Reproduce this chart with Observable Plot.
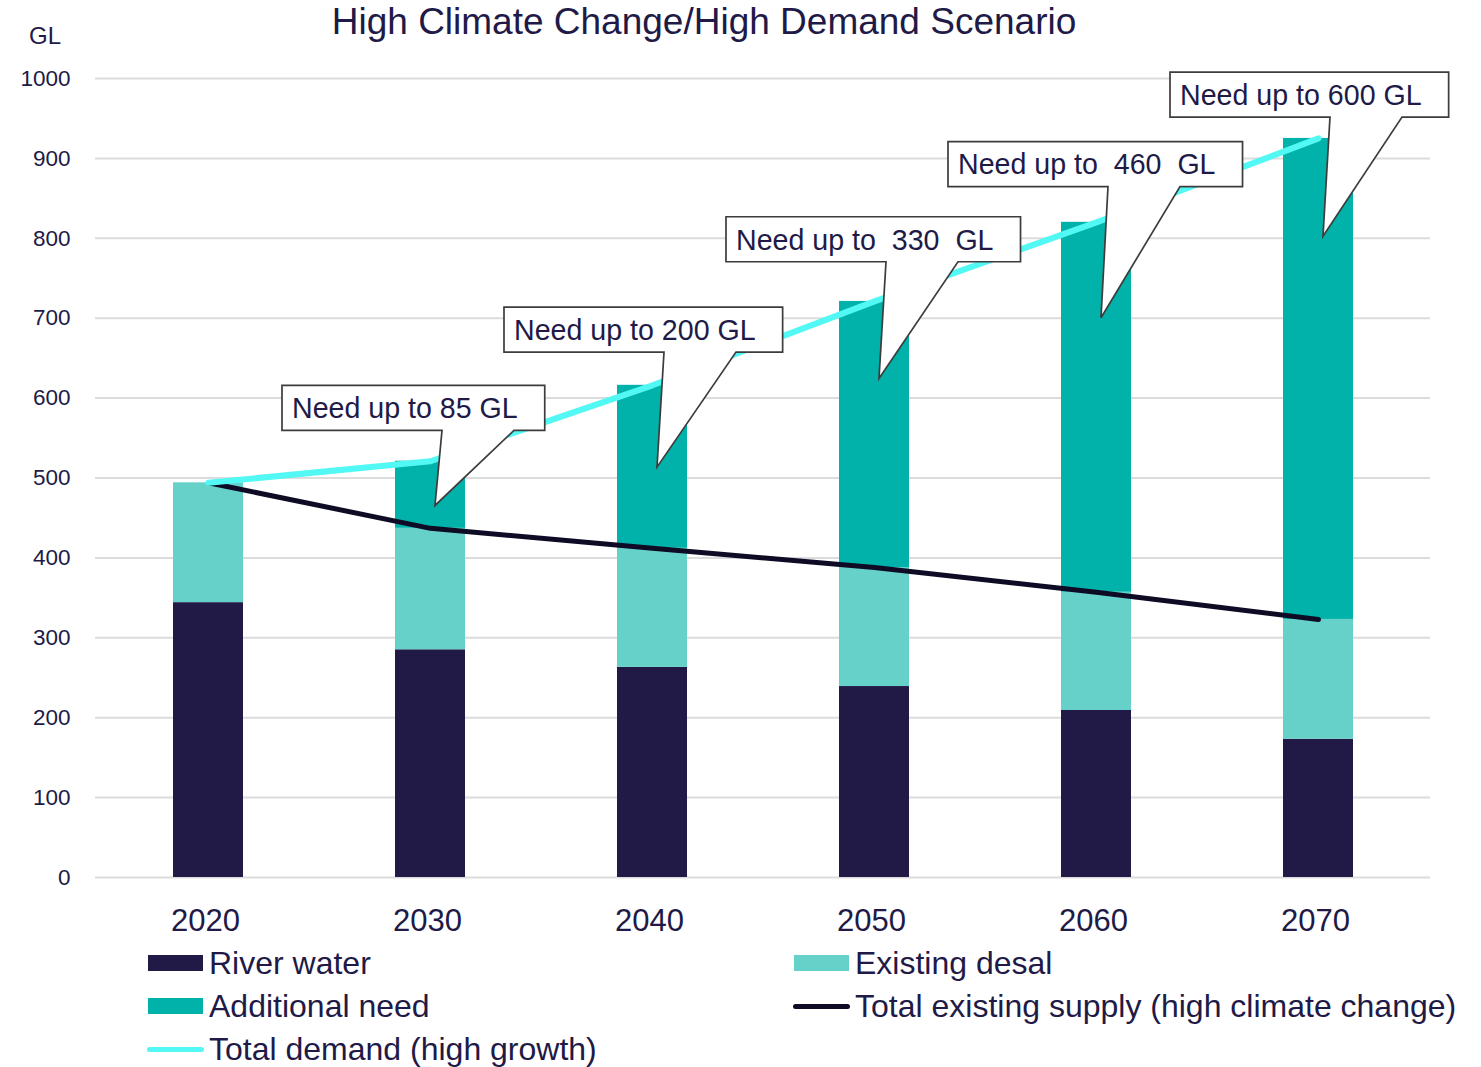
<!DOCTYPE html>
<html>
<head>
<meta charset="utf-8">
<script src="https://cdn.jsdelivr.net/npm/d3@7"></script>
<script src="https://cdn.jsdelivr.net/npm/@observablehq/plot@0.6"></script>
<style>
  body { margin: 0; background: #fff; font-family: "Liberation Sans", Arial, sans-serif; color: #211a47; }
  #wrap { position: relative; width: 1481px; height: 1067px; overflow: hidden; }
  #title { position: absolute; left: 0; top: 0; width: 1408px; text-align: center; font-size: 37px; line-height: 44px; white-space: nowrap; }
  #unit { position: absolute; left: 29px; top: 24px; font-size: 24px; line-height: 24px; }
  #chart { position: absolute; left: 0; top: 50px; }
  .lg { position: absolute; height: 40px; display: flex; align-items: center; font-size: 32px; white-space: nowrap; }
  .sw { display: inline-block; width: 55px; height: 16px; margin-right: 6px; }
  .ln { display: inline-block; width: 57px; height: 5px; border-radius: 3px; margin-left: -1px; margin-right: 5px; }
</style>
</head>
<body>
<div id="wrap">
  <div id="title">High Climate Change/High Demand Scenario</div>
  <div id="unit">GL</div>
  <div id="chart"></div>
</div>
<script>
// ---- data ----
const years = ["2020", "2030", "2040", "2050", "2060", "2070"];
const riverWater = [344, 285, 263, 239, 209, 173];
const existingDesal = [150, 152, 149, 149, 148, 150];
const additionalNeed = [0, 84, 204, 333, 463, 602];
const totalSupply = [494, 437, 412, 388, 357, 323];
const totalDemand = [494, 521, 616, 721, 820, 925];
const yTicks = [0, 100, 200, 300, 400, 500, 600, 700, 800, 900, 1000];

const seriesNames = ["River water", "Existing desal", "Additional need"];
const seriesColors = ["#211a47", "#66d1c9", "#00b2a9"];
const supplyName = "Total existing supply (high climate change)";
const demandName = "Total demand (high growth)";
const supplyColor = "#0e0b25";
const demandColor = "#52f8f4";

const calloutYears = ["2030", "2040", "2050", "2060", "2070"];
const calloutLabels = ["Need up to 85 GL", "Need up to 200 GL", "Need up to  330  GL", "Need up to  460  GL", "Need up to 600 GL"];
const calloutTips = [465, 513, 624, 700, 802];
const calloutBoxBottoms = [559, 657, 770, 864, 951];

// ---- tables ----
const seriesValues = [riverWater, existingDesal, additionalNeed];
const barRows = years.flatMap((yr, i) => seriesNames.map((s, k) => ({year: yr, series: s, value: seriesValues[k][i]})));
const supplyRows = years.map((yr, i) => ({year: yr, value: totalSupply[i]}));
const demandRows = years.map((yr, i) => ({year: yr, value: totalDemand[i]}));

const FONT = "'Liberation Sans', Arial, sans-serif";

const calloutMark = (index, scales, values, dimensions, context) => {
  const g = d3.create("svg:g").attr("font-family", FONT);
  const x = scales.x;
  const half = typeof x.bandwidth === "function" ? x.bandwidth() / 2 : 0;
  const ctx = document.createElement("canvas").getContext("2d");
  ctx.font = "28.6px 'Liberation Sans'";
  calloutYears.forEach((yr, i) => {
    const cx = x(yr) + half;
    const tipY = scales.y(calloutTips[i]);
    const bottom = scales.y(calloutBoxBottoms[i]);
    const top = bottom - 45;
    const tw = ctx.measureText(calloutLabels[i]).width;
    const left = cx - 148, right = left + tw + 37;
    const tipX = cx + 5, tl = cx + 12, tr = cx + 84;
    g.append("path")
      .attr("d", `M${left},${top}H${right}V${bottom}H${tr}L${tipX},${tipY}L${tl},${bottom}H${left}Z`)
      .attr("fill", "#fff").attr("stroke", "#3c3c3c").attr("stroke-width", 1.7).attr("stroke-linejoin", "miter");
    g.append("text")
      .attr("x", left + 10).attr("y", (top + bottom) / 2).attr("dy", "0.36em")
      .attr("text-anchor", "start")
      .attr("font-size", 28.6).attr("fill", "#211a47").style("white-space", "pre")
      .text(calloutLabels[i]);
  });
  return g.node();
};

const chart = Plot.plot({
  width: 1481,
  height: 890,
  marginLeft: 95,
  marginRight: 51,
  marginTop: 28,
  marginBottom: 63,
  style: {fontFamily: FONT, color: "#211a47", background: "#fff", overflow: "visible"},
  x: {domain: years, type: "band", paddingInner: 0.6854, paddingOuter: 0.3427, axis: null},
  y: {domain: [0, 1000], axis: null},
  color: {domain: seriesNames, range: seriesColors},
  marks: [
    Plot.ruleY(yTicks, {stroke: "#dcdcdc", strokeWidth: 2}),
    Plot.barY(barRows, {x: "year", y: "value", fill: "series"}),
    Plot.line(supplyRows, {x: "year", y: "value", stroke: supplyColor, strokeWidth: 5, strokeLinecap: "round", strokeLinejoin: "round"}),
    Plot.line(demandRows, {x: "year", y: "value", stroke: demandColor, strokeWidth: 6, strokeLinecap: "round", strokeLinejoin: "round"}),
    Plot.axisY(yTicks, {tickSize: 0, tickPadding: 25, fontSize: 22.5, fill: "#211a47", label: null, tickFormat: d => String(d)}),
    Plot.axisX({tickSize: 0, tickPadding: 31, fontSize: 31, fill: "#211a47", label: null, dx: -3}),
    calloutMark
  ]
});
document.getElementById("chart").appendChild(chart);

// ---- legend ----
const wrap = document.getElementById("wrap");
const legendItems = [
  {label: seriesNames[0], color: seriesColors[0], kind: "box", left: 148, cy: 963},
  {label: seriesNames[1], color: seriesColors[1], kind: "box", left: 794, cy: 963},
  {label: seriesNames[2], color: seriesColors[2], kind: "box", left: 148, cy: 1006},
  {label: supplyName, color: supplyColor, kind: "line", left: 794, cy: 1006},
  {label: demandName, color: demandColor, kind: "line", left: 148, cy: 1049}
];
legendItems.forEach(d => {
  const el = document.createElement("div");
  el.className = "lg";
  el.style.left = d.left + "px";
  el.style.top = (d.cy - 20) + "px";
  const sw = document.createElement("span");
  sw.className = d.kind === "box" ? "sw" : "ln";
  sw.style.background = d.color;
  const tx = document.createElement("span");
  tx.textContent = d.label;
  el.appendChild(sw);
  el.appendChild(tx);
  wrap.appendChild(el);
});
</script>
</body>
</html>
